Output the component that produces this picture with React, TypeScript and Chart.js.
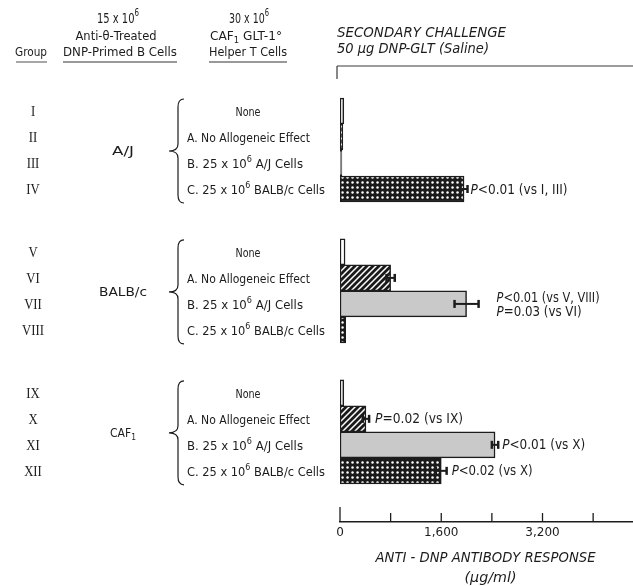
import { useEffect, useRef } from 'react';
import { Chart, registerables } from 'chart.js';

Chart.register(...registerables);

// ---------------- data ----------------
const groupLabels = ['I', 'II', 'III', 'IV', 'V', 'VI', 'VII', 'VIII', 'IX', 'X', 'XI', 'XII'];
const bCellDonors = ['A/J', 'BALB/c', 'CAF_1'];
const helperTreatments = ['None', 'A. No Allogeneic Effect', 'B. 25 x 10^6 A/J Cells', 'C. 25 x 10^6 BALB/c Cells'];
const responses = [60, 45, 30, 1960, 80, 800, 2000, 90, 60, 410, 2450, 1600];
const errors = [0, 0, 0, 55, 0, 65, 190, 0, 0, 50, 50, 85];
const xTickValues = [0, 800, 1600, 2400, 3200, 4000];
const xTickLabels = ['0', '', '1,600', '', '3,200', ''];
const sigRows = [3, 6, 9, 10, 11];
const sigTexts = [
  ['P<0.01 (vs I, III)'],
  ['P<0.01 (vs V, VIII)', 'P=0.03 (vs VI)'],
  ['P=0.02 (vs IX)'],
  ['P<0.01 (vs X)'],
  ['P<0.02 (vs X)'],
];
const groupHeader = 'Group';
const bCellHeader = ['15 x 10^6', 'Anti-θ-Treated', 'DNP-Primed B Cells'];
const helperHeader = ['30 x 10^6', 'CAF_1 GLT-1°', 'Helper T Cells'];
const challengeTitle = ['SECONDARY CHALLENGE', '50 µg DNP-GLT (Saline)'];
const xAxisTitle = ['ANTI - DNP ANTIBODY RESPONSE', '(µg/ml)'];

// ---------------- layout ----------------
const W = 633;
const H = 586;
const PLOT_LEFT = 340;
const PLOT_TOP = 66;
const AXIS_Y = 522;
const FIRST_ROW_Y = 111;
const ROW_PX = 26;
const GROUP_STRIDE = 5.42;
const X_MAX = 4630;
const Y_MIN = -(FIRST_ROW_Y - PLOT_TOP) / ROW_PX;
const Y_MAX = Y_MIN + (AXIS_Y - PLOT_TOP) / ROW_PX;

const SANS = '"DejaVu Sans", "Liberation Sans", Arial, sans-serif';
const SERIF = '"Liberation Serif", "DejaVu Serif", serif';
const INK = '#1c1c1c';

const rowPos = groupLabels.map((_, i) => Math.floor(i / 4) * GROUP_STRIDE + (i % 4));

const sigGap = [3, 18, 6, 4, 5];
const sigWidths = [[97], [103, 85], [88], [83], [81]];
const treatWidths = [25, 123, 116, 138];
const donorWidths = [22, 48, 26];

type Seg = { t: string; k: 'n' | 'sup' | 'sub' | 'it' };

function parseRich(s: string): Seg[] {
  const out: Seg[] = [];
  let buf = '';
  for (let i = 0; i < s.length; i++) {
    const c = s[i];
    if ((c === '^' || c === '_') && i + 1 < s.length) {
      if (buf) { out.push({ t: buf, k: 'n' }); buf = ''; }
      out.push({ t: s[i + 1], k: c === '^' ? 'sup' : 'sub' });
      i++;
    } else buf += c;
  }
  if (buf) out.push({ t: buf, k: 'n' });
  return out;
}

type TOpts = { size: number; family?: string; italic?: boolean; align?: 'left' | 'center'; w?: number; sx?: number };

function drawRich(ctx: CanvasRenderingContext2D, segs: Seg[], x: number, y: number, o: TOpts) {
  const fam = o.family || SANS;
  const fontFor = (k: string) =>
    `${o.italic || k === 'it' ? 'italic ' : ''}${k === 'sup' || k === 'sub' ? Math.round(o.size * 0.68) : o.size}px ${fam}`;
  const widths = segs.map((sg) => { ctx.font = fontFor(sg.k); return ctx.measureText(sg.t).width; });
  const total = widths.reduce((a, b) => a + b, 0);
  const s = o.w ? o.w / total : o.sx ?? 1;
  const x0 = o.align === 'center' ? x - (total * s) / 2 : x;
  ctx.save();
  ctx.translate(x0, y);
  ctx.scale(s, 1);
  ctx.textBaseline = 'middle';
  ctx.textAlign = 'left';
  ctx.fillStyle = INK;
  let cx = 0;
  segs.forEach((sg, i) => {
    ctx.font = fontFor(sg.k);
    const dy = sg.k === 'sup' ? -o.size * 0.38 : sg.k === 'sub' ? o.size * 0.3 : 0;
    ctx.fillText(sg.t, cx, dy);
    cx += widths[i];
  });
  ctx.restore();
}

function text(ctx: CanvasRenderingContext2D, s: string, x: number, y: number, o: TOpts) {
  drawRich(ctx, parseRich(s), x, y, o);
}

function line(ctx: CanvasRenderingContext2D, x1: number, y1: number, x2: number, y2: number, w: number, c = INK) {
  ctx.save();
  ctx.strokeStyle = c;
  ctx.lineWidth = w;
  ctx.beginPath();
  ctx.moveTo(x1, y1);
  ctx.lineTo(x2, y2);
  ctx.stroke();
  ctx.restore();
}

function brace(ctx: CanvasRenderingContext2D, xTip: number, xMid: number, xR: number, yTop: number, yBot: number) {
  const ym = (yTop + yBot) / 2;
  ctx.save();
  ctx.strokeStyle = INK;
  ctx.lineWidth = 1.2;
  ctx.beginPath();
  ctx.moveTo(xR, yTop);
  ctx.quadraticCurveTo(xMid, yTop, xMid, yTop + 8);
  ctx.lineTo(xMid, ym - 7);
  ctx.quadraticCurveTo(xMid, ym, xTip, ym);
  ctx.quadraticCurveTo(xMid, ym, xMid, ym + 7);
  ctx.lineTo(xMid, yBot - 8);
  ctx.quadraticCurveTo(xMid, yBot, xR, yBot);
  ctx.stroke();
  ctx.restore();
}

function makeHatch(ctx: CanvasRenderingContext2D) {
  const c = document.createElement('canvas');
  c.width = 6; c.height = 6;
  const g = c.getContext('2d')!;
  g.fillStyle = '#1a1a1a';
  g.fillRect(0, 0, 6, 6);
  g.strokeStyle = '#ffffff';
  g.lineWidth = 1.5;
  g.beginPath();
  g.moveTo(-1, 7); g.lineTo(7, -1);
  g.moveTo(-1, 1); g.lineTo(1, -1);
  g.moveTo(5, 7); g.lineTo(7, 5);
  g.stroke();
  return ctx.createPattern(c, 'repeat')!;
}

function makeDots(ctx: CanvasRenderingContext2D) {
  const c = document.createElement('canvas');
  c.width = 5; c.height = 5;
  const g = c.getContext('2d')!;
  g.fillStyle = '#1a1a1a';
  g.fillRect(0, 0, 5, 5);
  g.fillStyle = '#ffffff';
  g.beginPath();
  g.arc(2.5, 2.5, 1.25, 0, Math.PI * 2);
  g.fill();
  return ctx.createPattern(c, 'repeat')!;
}

export default function App() {
  const ref = useRef<HTMLCanvasElement>(null);

  useEffect(() => {
    const canvas = ref.current!;
    const ctx0 = canvas.getContext('2d')!;
    const fills = ['#ffffff', makeHatch(ctx0), '#c9c9c9', makeDots(ctx0)];
    const bg = groupLabels.map((_, i) => fills[i % 4]);

    const errorBars = {
      id: 'errorBars',
      afterDatasetsDraw(chart: any) {
        const ctx = chart.ctx as CanvasRenderingContext2D;
        const xs = chart.scales.x;
        const ys = chart.scales.y;
        errors.forEach((e, i) => {
          if (!e) return;
          const y = ys.getPixelForValue(rowPos[i]);
          const x1 = xs.getPixelForValue(responses[i] - e);
          const x2 = xs.getPixelForValue(responses[i] + e);
          line(ctx, x1, y, x2, y, 2);
          line(ctx, x1, y - 4, x1, y + 4, 2.5);
          line(ctx, x2, y - 4, x2, y + 4, 2.5);
        });
      },
    };

    const decorations = {
      id: 'decorations',
      afterDraw(chart: any) {
        const ctx = chart.ctx as CanvasRenderingContext2D;
        const xs = chart.scales.x;
        const ys = chart.scales.y;
        const area = chart.chartArea;

        // top frame
        line(ctx, area.left - 3, area.top, area.right, area.top, 1.2, '#3a3a3a');
        line(ctx, area.left - 3, area.top, area.left - 3, area.top + 13, 1.2, '#3a3a3a');

        // inward tick marks
        xs.ticks.forEach((t: any) => {
          const x = xs.getPixelForValue(t.value);
          line(ctx, x, area.bottom, x, area.bottom - (t.value === 0 ? 15 : 9), 1.3);
        });

        // titles
        text(ctx, challengeTitle[0], 337, 33, { size: 14, italic: true, w: 169 });
        text(ctx, challengeTitle[1], 337, 49, { size: 14, italic: true, w: 152 });
        const cx = (area.left + area.right) / 2;
        text(ctx, xAxisTitle[0], cx - 1, 558, { size: 14, italic: true, align: 'center', w: 220 });
        text(ctx, xAxisTitle[1], cx + 4, 578, { size: 14, italic: true, align: 'center', w: 52 });

        // column headers
        text(ctx, groupHeader, 31, 53, { size: 13, align: 'center', w: 32 });
        line(ctx, 16, 62, 47, 62, 1.3, '#777');
        text(ctx, bCellHeader[0], 118, 19, { size: 14, align: 'center', w: 42 });
        text(ctx, bCellHeader[1], 116, 37, { size: 13, align: 'center', w: 81 });
        text(ctx, bCellHeader[2], 120, 53, { size: 13, align: 'center', w: 114 });
        line(ctx, 63, 62, 177, 62, 1.3, '#777');
        text(ctx, helperHeader[0], 249, 19, { size: 14, align: 'center', w: 40 });
        text(ctx, helperHeader[1], 246, 37, { size: 13, align: 'center', w: 72 });
        text(ctx, helperHeader[2], 248, 53, { size: 13, align: 'center', w: 78 });
        line(ctx, 209, 62, 287, 62, 1.3, '#777');

        // rows
        groupLabels.forEach((g, i) => {
          const y = ys.getPixelForValue(rowPos[i]);
          text(ctx, g, 33, y + 1.5, { size: 15, family: SERIF, align: 'center', sx: 0.85 });
          const k = i % 4;
          if (k === 0) text(ctx, helperTreatments[0], 248, y + 2, { size: 13, align: 'center', w: treatWidths[0] });
          else text(ctx, helperTreatments[k], 187, y + 2, { size: 13, w: treatWidths[k] });
        });

        // donors + braces
        bCellDonors.forEach((d, gi) => {
          const yTop = ys.getPixelForValue(rowPos[gi * 4]);
          const yBot = ys.getPixelForValue(rowPos[gi * 4 + 3]);
          const ym = (yTop + yBot) / 2;
          text(ctx, d, 123, ym + 2, { size: 13, align: 'center', w: donorWidths[gi] });
          brace(ctx, 169, 178, 184, yTop - 12, yBot + 14);
        });

        // significance notes
        sigRows.forEach((r, si) => {
          const lines = sigTexts[si];
          const xEnd = xs.getPixelForValue(responses[r] + errors[r]) + sigGap[si];
          const y0 = ys.getPixelForValue(rowPos[r]);
          lines.forEach((s, li) => {
            const y = y0 + 1 + (lines.length === 1 ? 0 : (li - (lines.length - 1) / 2) * 14);
            const segs: Seg[] = [{ t: s[0], k: 'it' }, ...parseRich(s.slice(1))];
            drawRich(ctx, segs, xEnd, y, { size: 14, w: sigWidths[si][li] });
          });
        });
      },
    };

    const chart = new Chart(canvas, {
      type: 'bar',
      data: {
        datasets: [
          {
            data: rowPos.map((y, i) => ({ x: responses[i], y })) as any,
            backgroundColor: bg as any,
            borderColor: INK,
            borderWidth: 1.5,
            borderSkipped: false,
            barPercentage: 1,
            categoryPercentage: 1,
          },
        ],
      },
      options: {
        indexAxis: 'y',
        responsive: false,
        animation: false,
        events: [],
        layout: { padding: { left: PLOT_LEFT, top: PLOT_TOP, right: 0, bottom: 0 } },
        plugins: { legend: { display: false }, tooltip: { enabled: false } },
        scales: {
          y: {
            type: 'linear',
            display: false,
            reverse: true,
            offset: false,
            min: Y_MIN,
            max: Y_MAX,
            afterBuildTicks: (s: any) => { s.ticks = rowPos.map((v) => ({ value: v })); },
          },
          x: {
            type: 'linear',
            position: 'bottom',
            min: 0,
            max: X_MAX,
            grid: { display: false, drawTicks: false },
            border: { display: true, color: INK, width: 1.5 },
            afterBuildTicks: (s: any) => { s.ticks = xTickValues.map((v) => ({ value: v })); },
            afterFit: (s: any) => { s.height = H - AXIS_Y; },
            ticks: {
              autoSkip: false,
              maxRotation: 0,
              padding: 4,
              color: INK,
              font: { family: SANS, size: 12 },
              callback: (v: any) => {
                const idx = xTickValues.indexOf(Number(v));
                return idx >= 0 ? xTickLabels[idx] : '';
              },
            },
          },
        },
      },
      plugins: [errorBars, decorations],
    });
    return () => chart.destroy();
  }, []);

  return (
    <div style={{ position: 'absolute', left: 0, top: 0, width: W, height: H, background: '#fff' }}>
      <canvas ref={ref} width={W} height={H} style={{ display: 'block' }} />
    </div>
  );
}
